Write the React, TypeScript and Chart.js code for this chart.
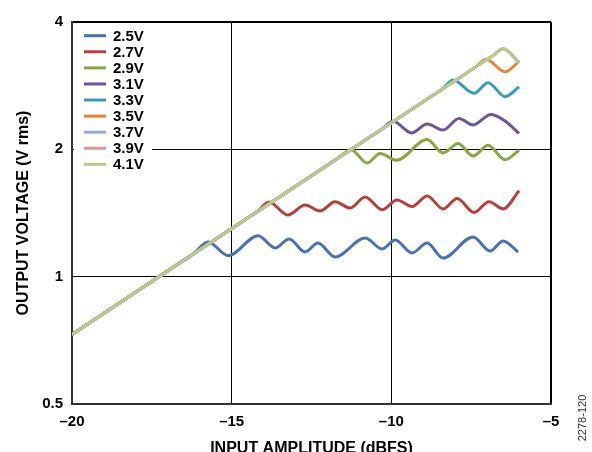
import React, { useEffect, useRef } from 'react';
import { Chart, registerables } from 'chart.js';

Chart.register(...registerables);

const FONT = 'Arial, "Liberation Sans", sans-serif';

const seriesLabels = ['2.5V', '2.7V', '2.9V', '3.1V', '3.3V', '3.5V', '3.7V', '3.9V', '4.1V'];
const seriesColors = ['#4a72b0', '#b3423e', '#87a845', '#6f559a', '#3b9cb6', '#e5843a', '#94afd6', '#d99b9a', '#b5cb92'];

const xTicks = [-20, -15, -10, -5];
const yTicks = [0.5, 1, 2, 4];

// [input dBFS, output V rms]
const s25: [number, number][] = [
  [-20, 0.7302], [-16.5, 1.093], [-16.2, 1.131], [-15.74, 1.208], [-15.11, 1.121], [-14.17, 1.25], [-13.64, 1.169],
  [-13.2, 1.228], [-12.7, 1.144], [-12.3, 1.201], [-11.76, 1.113], [-10.82, 1.234], [-10.29, 1.163],
  [-9.88, 1.221], [-9.35, 1.138], [-8.88, 1.201], [-8.38, 1.107], [-7.44, 1.241], [-6.91, 1.15],
  [-6.5, 1.215], [-6.03, 1.144],
];
const s27: [number, number][] = [
  [-20, 0.7302], [-14.5, 1.376], [-14.2, 1.424], [-13.83, 1.502], [-13.24, 1.399], [-12.7, 1.477], [-12.23, 1.43],
  [-11.76, 1.504], [-11.29, 1.453], [-10.82, 1.543], [-10.29, 1.44], [-9.82, 1.518], [-9.35, 1.465],
  [-8.88, 1.552], [-8.38, 1.446], [-7.94, 1.53], [-7.41, 1.418], [-6.94, 1.504], [-6.5, 1.446],
  [-6.0, 1.597],
];
const s29: [number, number][] = [
  [-20, 0.7302], [-12.0, 1.834], [-11.7, 1.899], [-11.26, 1.995], [-10.76, 1.857], [-10.35, 1.956], [-9.84, 1.884],
  [-8.88, 2.11], [-8.38, 1.961], [-7.91, 2.065], [-7.44, 1.929], [-6.97, 2.045], [-6.44, 1.89],
  [-6.0, 1.99],
];
const s31: [number, number][] = [
  [-20, 0.7302], [-10.6, 2.156], [-10.3, 2.231], [-9.95, 2.33], [-9.36, 2.187], [-8.88, 2.296], [-8.38, 2.222],
  [-7.88, 2.366], [-7.44, 2.284], [-6.88, 2.418], [-6.44, 2.334], [-6.0, 2.181],
];
const s33: [number, number][] = [
  [-20, 0.7302], [-8.7, 2.683], [-8.4, 2.777], [-8.07, 2.918], [-7.41, 2.714], [-6.97, 2.875], [-6.44, 2.664], [-6.0, 2.81],
];
const s35: [number, number][] = [
  [-20, 0.7302], [-7.65, 3.027], [-7.35, 3.133], [-7.04, 3.266], [-6.44, 3.05], [-6.0, 3.224],
];
const s37: [number, number][] = [
  [-20, 0.7302], [-7.1, 3.225], [-6.8, 3.339], [-6.5, 3.456], [-6.0, 3.206],
];
const s39: [number, number][] = [
  [-20, 0.7302], [-7.1, 3.225], [-6.8, 3.339], [-6.5, 3.456], [-6.0, 3.206],
];
const s41: [number, number][] = [
  [-20, 0.7302], [-7.1, 3.225], [-6.8, 3.339], [-6.5, 3.456], [-6.0, 3.206],
];

const allSeries = [s25, s27, s29, s31, s33, s35, s37, s39, s41];

const legendPlugin = {
  id: 'insideLegend',
  afterDraw(chart: any) {
    const ctx = chart.ctx as CanvasRenderingContext2D;
    const { left, top } = chart.chartArea;
    ctx.save();
    ctx.fillStyle = '#ffffff';
    ctx.fillRect(left + 2, top + 2, 78, 150);
    chart.data.datasets.forEach((ds: any, i: number) => {
      const y = top + 13.7 + i * 16.08;
      ctx.strokeStyle = ds.borderColor;
      ctx.lineWidth = 3;
      ctx.beginPath();
      ctx.moveTo(left + 12, y);
      ctx.lineTo(left + 34, y);
      ctx.stroke();
      ctx.fillStyle = '#000';
      ctx.font = `bold 15px ${FONT}`;
      ctx.textBaseline = 'middle';
      ctx.textAlign = 'left';
      ctx.fillText(ds.label, left + 41, y + 1);
    });
    ctx.restore();
  },
};

const codePlugin = {
  id: 'figCode',
  afterDraw(chart: any) {
    const ctx = chart.ctx as CanvasRenderingContext2D;
    ctx.save();
    ctx.translate(583, 418);
    ctx.rotate(-Math.PI / 2);
    ctx.fillStyle = '#333';
    ctx.font = `11px ${FONT}`;
    ctx.textAlign = 'center';
    ctx.textBaseline = 'middle';
    ctx.fillText('2278-120', 0, 0);
    ctx.restore();
  },
};

export default function App() {
  const ref = useRef<HTMLCanvasElement>(null);

  useEffect(() => {
    document.body.style.margin = '0';
    const datasets = allSeries.map((s, i) => ({
      label: seriesLabels[i],
      data: s.map(([x, y]) => ({ x, y })),
      borderColor: seriesColors[i],
      backgroundColor: seriesColors[i],
      borderWidth: 3,
      pointRadius: 0,
      fill: false,
      cubicInterpolationMode: 'monotone' as const,
      order: allSeries.length - 1 - i,
    }));

    const chart = new Chart(ref.current!, {
      type: 'line',
      data: { datasets },
      plugins: [legendPlugin, codePlugin],
      options: {
        animation: false,
        responsive: false,
        devicePixelRatio: 1,
        events: [],
        layout: { padding: { top: 22, right: 41, left: 0, bottom: 0 } },
        plugins: {
          legend: { display: false },
          tooltip: { enabled: false },
          title: { display: false },
        },
        scales: {
          x: {
            type: 'linear',
            min: -20,
            max: -5,
            afterBuildTicks: (s: any) => {
              s.ticks = xTicks.map((v) => ({ value: v }));
            },
            afterFit: (s: any) => {
              s.height = 56;
            },
            ticks: {
              autoSkip: false,
              maxRotation: 0,
              padding: 9,
              color: '#000',
              font: { family: FONT, size: 15, weight: 'bold' },
              callback: (v: any) => (Number(v) < 0 ? '\u2013' + Math.abs(Number(v)) : String(v)),
            },
            grid: {
              color: '#000',
              drawTicks: false,
              lineWidth: (c: any) => (c.tick && (c.tick.value === -20 || c.tick.value === -5) ? 2 : 1),
            },
            border: { color: '#333', width: 2 },
            title: {
              display: true,
              text: 'INPUT AMPLITUDE (dBFS)',
              color: '#000',
              font: { family: FONT, size: 16, weight: 'bold' },
              padding: { top: 0, bottom: 2 },
            },
          },
          y: {
            type: 'logarithmic',
            min: 0.5,
            max: 4,
            afterBuildTicks: (s: any) => {
              s.ticks = yTicks.map((v) => ({ value: v }));
            },
            afterFit: (s: any) => {
              s.width = 72;
            },
            ticks: {
              autoSkip: false,
              padding: 9,
              color: '#000',
              font: { family: FONT, size: 15, weight: 'bold' },
              callback: (v: any) => String(v),
            },
            grid: {
              color: '#000',
              drawTicks: false,
              lineWidth: (c: any) => (c.tick && (c.tick.value === 0.5 || c.tick.value === 4) ? 2 : 1),
            },
            border: { color: '#333', width: 2 },
            title: {
              display: true,
              text: 'OUTPUT VOLTAGE (V rms)',
              color: '#000',
              font: { family: FONT, size: 16, weight: 'bold' },
              padding: { top: 14, bottom: 0 },
            },
          },
        },
      } as any,
    });
    return () => chart.destroy();
  }, []);

  return (
    <div style={{ position: 'absolute', left: 0, top: 0, width: 592, height: 452, overflow: 'hidden', background: '#fff' }}>
      <canvas ref={ref} width={592} height={460} style={{ display: 'block' }} />
    </div>
  );
}
